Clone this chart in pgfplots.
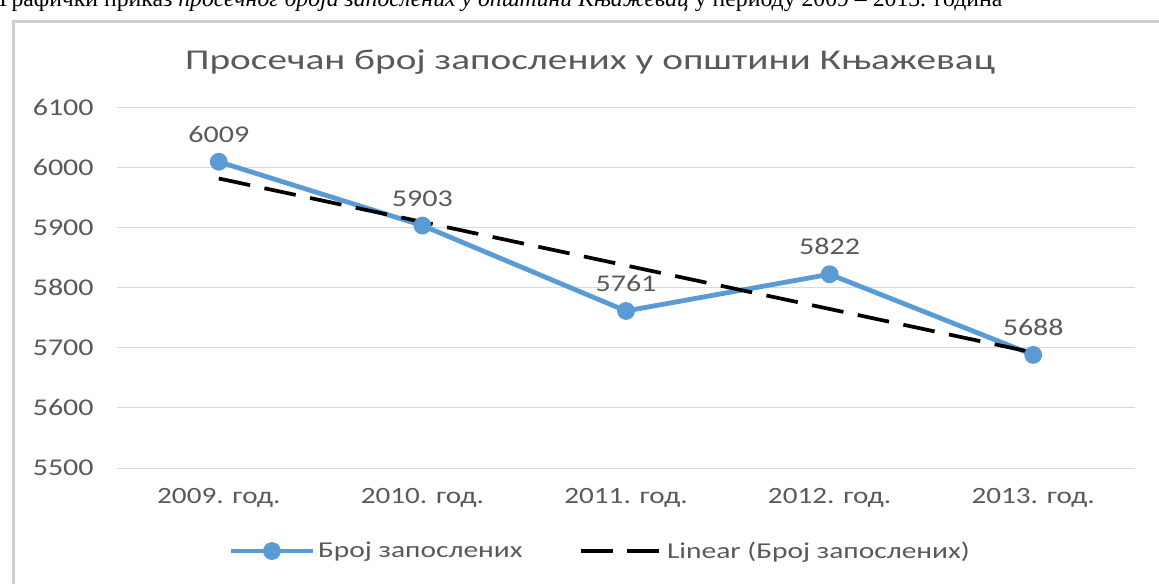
\documentclass[border=0pt]{standalone}
\usepackage{pgfplots}
\pgfplotsset{compat=1.18}
\usepackage{fontspec}
\setmainfont{Carlito}
\newfontfamily\chartfont{Carlito}[FakeStretch=1.25]
\newfontfamily\titlefont{Carlito}[FakeStretch=1.37]
\newfontfamily\legfont{Carlito}[FakeStretch=1.3]
\newfontfamily\capfont{Liberation Serif}
\definecolor{txtc}{HTML}{595959}
\definecolor{gridc}{HTML}{D9D9D9}
\definecolor{framec}{HTML}{D0D0D0}
\definecolor{bluec}{HTML}{5B9BD5}
\begin{document}
\begin{tikzpicture}
\useasboundingbox (0pt,0pt) rectangle (869.25pt,437.25pt);
\node[anchor=base west, inner sep=0pt, font=\capfont\fontsize{17.8pt}{20pt}\selectfont] at (-0.75pt,432pt)
  {Графички приказ \textit{просечног броја запослених у општини Књажевац} у периоду 2009 – 2013. година};
\draw[framec, line width=2.25pt] (9.75pt,-20pt) -- (9.75pt,420.75pt) -- (1000pt,420.75pt);
\node[font=\titlefont\fontsize{21.5pt}{24pt}\selectfont, text=txtc, anchor=center] at (442.5pt,390.75pt)
  {Просечан број запослених у општини Књажевац};
\begin{axis}[
  at={(87.75pt,86.25pt)}, anchor=south west,
  scale only axis, width=763.5pt, height=270.75pt,
  xmin=0.5, xmax=5.5, ymin=5500, ymax=6100,
  ytick={5500,5600,...,6100},
  xtick={1,2,3,4,5},
  xticklabels={2009. год., 2010. год., 2011. год., 2012. год., 2013. год.},
  axis line style={draw=none},
  major tick length=0pt,
  ymajorgrids, xmajorgrids=false,
  major grid style={draw=gridc, line width=0.75pt},
  tick label style={font=\chartfont\fontsize{18pt}{20pt}\selectfont, text=txtc},
  xticklabel style={font=\chartfont\fontsize{17.5pt}{20pt}\selectfont, yshift=-12pt},
  /pgf/number format/assume math mode=true,
  /pgf/number format/1000 sep={},
  yticklabel style={xshift=-14pt},
  legend style={at={(0.475,-0.23)}, anchor=center, draw=none, fill=none,
    font=\legfont\fontsize{17pt}{19pt}\selectfont, text=txtc,
    legend columns=2, /tikz/every even column/.append style={column sep=40pt}},
  legend image code/.code={\draw[mark repeat=2,mark phase=2,#1] plot coordinates {(0pt,0pt)(30.75pt,0pt)(61.5pt,0pt)};},
  clip=false,
]
\addplot[bluec, line width=3.6pt, mark=*, mark size=6.3pt, mark options={solid, fill=bluec, draw=bluec, line width=0.75pt},
  nodes near coords, point meta=explicit symbolic,
  every node near coord/.append style={anchor=south, yshift=14pt, inner sep=0pt,
    font=\chartfont\fontsize{18pt}{20pt}\selectfont, text=txtc}]
  coordinates {(1,6009)[6009] (2,5903)[5903] (3,5761)[5761] (4,5822)[5822] (5,5688)[5688]};
\addlegendentry{Број запослених}
\addplot[black, line width=2.8pt, dash pattern=on 24pt off 11pt]
  coordinates {(1,5981.2) (5,5692.0)};
\addlegendentry{Linear (Број запослених)}
\end{axis}
\end{tikzpicture}
\end{document}
